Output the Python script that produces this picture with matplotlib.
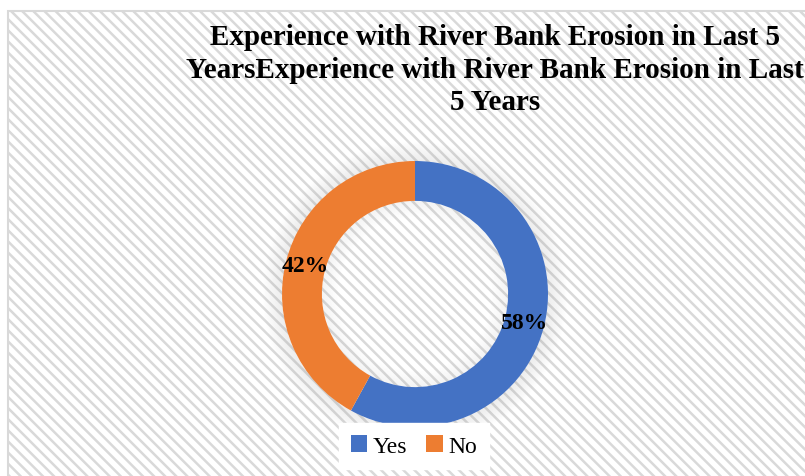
import matplotlib.pyplot as plt
import matplotlib as mpl
from matplotlib.patches import Rectangle, Wedge

labels = ["Yes", "No"]
shares = [58, 42]
colors = ["#4472C4", "#ED7D31"]
title = "Experience with River Bank Erosion in Last 5\nYearsExperience with River Bank Erosion in Last\n5 Years"

W, H = 805, 477
mpl.rcParams['font.family'] = ['Liberation Serif', 'DejaVu Serif']
mpl.rcParams['hatch.linewidth'] = 1.8
mpl.rcParams['hatch.color'] = '#F5F5F5'

fig = plt.figure(figsize=(W / 100, H / 100), dpi=100)
fig.patch.set_facecolor('white')

# chart area frame with light diagonal texture
frame = Rectangle((8 / W, 1 - 12 / H - 600 / H), 900 / W, 600 / H, transform=fig.transFigure,
                  facecolor='white', edgecolor='#D9D9D9', hatch='\\\\\\', linewidth=1.5, zorder=-5)
fig.add_artist(frame)

# donut axes
cx, cy, R = 415, 295, 133
half = 175
ax = fig.add_axes([(cx - half) / W, (H - cy - half) / H, 2 * half / W, 2 * half / H])
ax.set_zorder(1)
ax.patch.set_visible(False)
ax.axis('off')

# soft glow around the ring
n = 16
for k in range(n):
    a = 0.14 * (1 - k / n)
    ax.add_patch(Wedge((0, 0), R + (k + 1) * 1.2, 0, 360, width=1.2, color='#808080', alpha=a, lw=0))
    ax.add_patch(Wedge((0, 0), R * 0.7 - k * 1.0, 0, 360, width=1.0, color='#808080', alpha=a * 0.6, lw=0))

wedges, texts, autotexts = ax.pie(
    shares, colors=colors, radius=R, startangle=90, counterclock=False,
    wedgeprops=dict(width=R * 0.3, linewidth=0), autopct='%d%%', pctdistance=0.85,
    textprops=dict(fontsize=17, fontweight='bold', color='black'))
ax.set_xlim(-half, half)
ax.set_ylim(-half, half)
ax.set_aspect('equal')

fig.text(495 / W, 1 - 70 / H, title, ha='center', va='center', fontsize=21,
         fontweight='bold', linespacing=1.27, zorder=2)

leg = fig.legend(wedges, labels, loc='center', bbox_to_anchor=(414 / W, 1 - 447 / H), ncol=2,
                 frameon=True, fancybox=False, fontsize=17, handlelength=0.7, handleheight=0.7,
                 handletextpad=0.25, columnspacing=0.8, borderpad=0.5)
leg.set_zorder(3)
leg.get_frame().set_facecolor('white')
leg.get_frame().set_edgecolor('white')
leg.get_frame().set_alpha(1)

fig.savefig("out.png", dpi=100)
